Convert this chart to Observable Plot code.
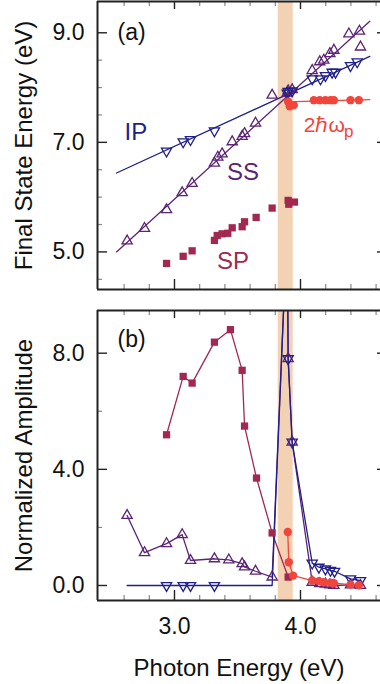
<!DOCTYPE html>
<html><head><meta charset="utf-8">
<script src="https://cdn.jsdelivr.net/npm/d3@7"></script>
<script src="https://cdn.jsdelivr.net/npm/@observablehq/plot@0.6"></script>
<style>
body{margin:0;background:#fff}
#chart{position:relative;width:380px;height:684px;font-family:"Liberation Sans",Arial,sans-serif}
#chart svg{position:absolute;left:0;overflow:visible}
g[aria-label="y-axis label"] text, g[aria-label="x-axis label"] text{font-size:24px}
</style></head>
<body><div id="chart"></div>
<script>
// ---------- shared ----------
const xDomain = [2.389, 4.635];
const bandX = [3.823, 3.942];
const xMajor = [3.0, 4.0];
const xMinor = [2.6, 2.8, 3.2, 3.4, 3.6, 3.8, 4.2, 4.4, 4.6];

// ---------- panel (a): final state energy ----------
const yDomainA = [4.314, 9.571];
const yMajorA = [5.0, 7.0, 9.0];
const yMinorA = [4.5, 5.5, 6.0, 6.5, 7.5, 8.0, 8.5];

const ipX = [2.937, 3.069, 3.127, 3.317, 3.895, 3.902, 3.934, 4.093, 4.159, 4.198, 4.251, 4.278, 4.397, 4.450];
const ipE = [6.84, 7.01, 7.05, 7.21, 7.90, 7.93, 7.94, 8.16, 8.16, 8.22, 8.28, 8.28, 8.40, 8.47];

const ssX = [2.624, 2.762, 2.937, 3.061, 3.140, 3.317, 3.344, 3.378, 3.458, 3.537, 3.556, 3.643, 3.775, 3.895, 3.902, 3.934, 4.093, 4.153, 4.185, 4.233, 4.265, 4.384, 4.468, 4.476];
const ssE = [5.20, 5.43, 5.77, 6.08, 6.25, 6.62, 6.73, 6.79, 7.01, 7.11, 7.16, 7.35, 7.86, 7.90, 7.94, 7.96, 8.31, 8.47, 8.50, 8.62, 8.68, 8.98, 9.03, 8.74];

const spX = [2.937, 3.069, 3.140, 3.317, 3.339, 3.378, 3.423, 3.458, 3.537, 3.556, 3.648, 3.775, 3.902, 3.907, 3.952];
const spE = [4.79, 4.92, 5.02, 5.21, 5.30, 5.33, 5.34, 5.44, 5.46, 5.55, 5.63, 5.80, 5.94, 5.87, 5.91];

const plX = [3.902, 3.915, 3.947, 4.106, 4.153, 4.198, 4.238, 4.265, 4.397, 4.463];
const plE = [7.74, 7.66, 7.68, 7.77, 7.77, 7.77, 7.77, 7.77, 7.77, 7.77];

const ipFitX = [2.54, 4.55], ipFitE = [6.44, 8.57];
const ssFitX = [2.54, 4.55], ssFitE = [5.00, 9.21];
const plFitX = [3.88, 4.55], plFitE = [7.74, 7.78];

const seriesLabels = ["IP", "SS", "SP"];
const seriesLabelX = [2.694, 3.544, 3.464];
const seriesLabelY = [7.19, 6.46, 4.83];
const plasmonLabel = "2ℏω", plasmonSub = "p";
const plasmonLabelX = 4.026, plasmonLabelY = 7.305;
const plasmonSubX = 4.345, plasmonSubY = 7.19;

// ---------- panel (b): normalized amplitude ----------
const yDomainB = [-0.517, 9.47];
const yMajorB = [0.0, 4.0, 8.0];
const yMinorB = [2.0, 6.0];

const ipAX = [2.624, 2.937, 3.069, 3.127, 3.317, 3.775, 3.895, 3.902, 3.934, 4.093, 4.146, 4.198, 4.238, 4.270, 4.397, 4.476];
const ipA = [0, 0, 0, 0, 0, 0, 12.5, 7.81, 4.94, 0.77, 0.63, 0.57, 0.52, 0.49, 0.23, 0.17];
const ipAMarked = [false, true, true, true, true, false, false, true, true, true, true, true, true, true, true, true];

const ssAX = [2.624, 2.762, 2.937, 3.061, 3.127, 3.317, 3.431, 3.537, 3.556, 3.643, 3.775, 3.895, 3.902, 3.934, 4.093, 4.153, 4.198, 4.233, 4.265, 4.397, 4.476];
const ssA = [2.41, 1.13, 1.44, 1.75, 0.86, 0.92, 0.88, 0.75, 0.64, 0.49, 0.29, 12.5, 7.81, 4.94, 0.11, 0.06, 0.05, 0.02, 0.0, 0.02, 0.0];

const spAX = [2.937, 3.069, 3.140, 3.317, 3.444, 3.537, 3.556, 3.651, 3.775, 3.902];
const spA = [5.19, 7.20, 6.97, 8.38, 8.81, 7.41, 5.49, 3.70, 1.81, 0.29];

const plAX = [3.899, 3.907, 3.942, 4.093, 4.146, 4.185, 4.238, 4.265, 4.397, 4.463];
const plA = [1.84, 0.80, 0.34, 0.17, 0.15, 0.11, 0.10, 0.08, 0.03, 0.01];

// ---------- styles ----------
const colIP = "#1f1f8c", colSS = "#5b2474", colSP = "#a2284f", colPL = "#f2453b", colBand = "#f3d1b3";
const labelColors = [colIP, colSS, colSP];
const FONT = "'Liberation Sans', Arial, sans-serif";

const rows = (xs, ys, extra) => xs.map((x, i) => ({x, y: ys[i], ...(extra ? extra(i) : {})}));

const W = 380, ML = 97, MR = 0;
const FW = W - ML - MR;

function frameMarks(yDomain, yMajor, yMinor, FH) {
  const dark = "#222", gray = "#888";
  return [
    Plot.tickX(xMajor, {x: d => d, insetTop: FH - 10, stroke: dark, strokeWidth: 1.4}),
    Plot.tickX(xMajor, {x: d => d, insetBottom: FH - 8, stroke: dark, strokeWidth: 1.4}),
    Plot.tickX(xMinor, {x: d => d, insetTop: FH - 5, stroke: gray, strokeWidth: 1.2}),
    Plot.tickX(xMinor, {x: d => d, insetBottom: FH - 5, stroke: gray, strokeWidth: 1.2}),
    Plot.tickY(yMajor, {y: d => d, insetRight: FW - 10, stroke: dark, strokeWidth: 1.4}),
    Plot.tickY(yMinor, {y: d => d, insetRight: FW - 5, stroke: gray, strokeWidth: 1.2}),
    Plot.tickY(yMajor, {y: d => d, insetLeft: FW - 3, stroke: dark, strokeWidth: 1.4}),
    Plot.ruleX([xDomain[0]], {stroke: dark, strokeWidth: 2}),
    Plot.ruleY([yDomain[0]], {stroke: dark, strokeWidth: 2}),
    Plot.ruleY([yDomain[1]], {stroke: dark, strokeWidth: 2})
  ];
}

const band = Plot.rect([{x1: bandX[0], x2: bandX[1]}], {x1: "x1", x2: "x2", fill: colBand});
const triUp = (data, color, clip) => Plot.dot(data, {x: "x", y: "y", symbol: "triangle", r: 3.8, stroke: color, fill: "none", strokeWidth: 1.3, clip});
const triDown = (data, color, clip) => Plot.dot(data, {x: "x", y: "y", symbol: "triangle", rotate: 180, r: 3.8, stroke: color, fill: "none", strokeWidth: 1.3, clip});
const squares = (data) => Plot.dot(data, {x: "x", y: "y", symbol: "square", r: 4.1, fill: colSP, stroke: "none"});
const circles = (data) => Plot.dot(data, {x: "x", y: "y", symbol: "circle", r: 4.2, fill: colPL, stroke: "none"});

// ---------- top plot ----------
const HA = 300, MTA = 1, MBA = 11;
const topPlot = Plot.plot({
  width: W, height: HA, marginTop: MTA, marginBottom: MBA, marginLeft: ML, marginRight: MR,
  style: {fontFamily: FONT, fontSize: "22px", color: "#111", background: "transparent"},
  x: {domain: xDomain, axis: null},
  y: {domain: yDomainA},
  marks: [
    band,
    Plot.line(rows(ipFitX, ipFitE), {x: "x", y: "y", stroke: colIP, strokeWidth: 1.3}),
    Plot.line(rows(ssFitX, ssFitE), {x: "x", y: "y", stroke: colSS, strokeWidth: 1.3}),
    Plot.line(rows(plFitX, plFitE), {x: "x", y: "y", stroke: colPL, strokeWidth: 1.3}),
    squares(rows(spX, spE)),
    triUp(rows(ssX, ssE), colSS),
    triDown(rows(ipX, ipE), colIP),
    circles(rows(plX, plE)),
    ...frameMarks(yDomainA, yMajorA, yMinorA, HA - MTA - MBA),
    Plot.axisY({ticks: yMajorA, tickFormat: ".1f", tickSize: 0, tickPadding: 13, fontSize: 23,
      label: "Final State Energy (eV)", labelArrow: "none", labelAnchor: "center", labelOffset: 83}),
    Plot.text(["(a)"], {frameAnchor: "top-left", dx: 20, dy: 22, lineAnchor: "top", textAnchor: "start", fontSize: 23, fill: "#111"}),
    Plot.text(seriesLabels, {x: (d, i) => seriesLabelX[i], y: (d, i) => seriesLabelY[i], text: d => d,
      fill: (d, i) => labelColors[i], fontSize: 24, textAnchor: "middle", lineAnchor: "middle"}),
    Plot.text([plasmonLabel], {x: () => plasmonLabelX, y: () => plasmonLabelY, text: d => d, fill: colPL, fontSize: 21, textAnchor: "start", lineAnchor: "middle"}),
    Plot.text([plasmonSub], {x: () => plasmonSubX, y: () => plasmonSubY, text: d => d, fill: colPL, fontSize: 17, textAnchor: "start", lineAnchor: "middle"})
  ]
});
topPlot.style.top = "0px";

// ---------- bottom plot ----------
const HB = 384, MTB = 10, MBB = 84;
const botPlot = Plot.plot({
  width: W, height: HB, marginTop: MTB, marginBottom: MBB, marginLeft: ML, marginRight: MR,
  style: {fontFamily: FONT, fontSize: "22px", color: "#111", background: "transparent"},
  x: {domain: xDomain},
  y: {domain: yDomainB},
  marks: [
    band,
    Plot.line(rows(spAX, spA), {x: "x", y: "y", stroke: colSP, strokeWidth: 1.3}),
    Plot.line(rows(ssAX, ssA), {x: "x", y: "y", stroke: colSS, strokeWidth: 1.3, clip: true}),
    Plot.line(rows(ipAX, ipA), {x: "x", y: "y", stroke: colIP, strokeWidth: 1.3, clip: true}),
    Plot.line(rows(plAX, plA), {x: "x", y: "y", stroke: colPL, strokeWidth: 1.3}),
    squares(rows(spAX, spA)),
    triUp(rows(ssAX, ssA), colSS, true),
    triDown(rows(ipAX, ipA, i => ({m: ipAMarked[i]})).filter(d => d.m), colIP, true),
    circles(rows(plAX, plA)),
    ...frameMarks(yDomainB, yMajorB, yMinorB, HB - MTB - MBB),
    Plot.axisY({ticks: yMajorB, tickFormat: ".1f", tickSize: 0, tickPadding: 13, fontSize: 23,
      label: "Normalized Amplitude", labelArrow: "none", labelAnchor: "center", labelOffset: 83}),
    Plot.axisX({ticks: xMajor, tickFormat: ".1f", tickSize: 0, tickPadding: 17, fontSize: 23,
      label: "Photon Energy (eV)", labelArrow: "none", labelAnchor: "center", labelOffset: 75}),
    Plot.text(["(b)"], {frameAnchor: "top-left", dx: 20, dy: 20, lineAnchor: "top", textAnchor: "start", fontSize: 23, fill: "#111"})
  ]
});
botPlot.style.top = "300px";

const chart = document.getElementById("chart");
chart.append(topPlot, botPlot);
</script>
</body></html>
